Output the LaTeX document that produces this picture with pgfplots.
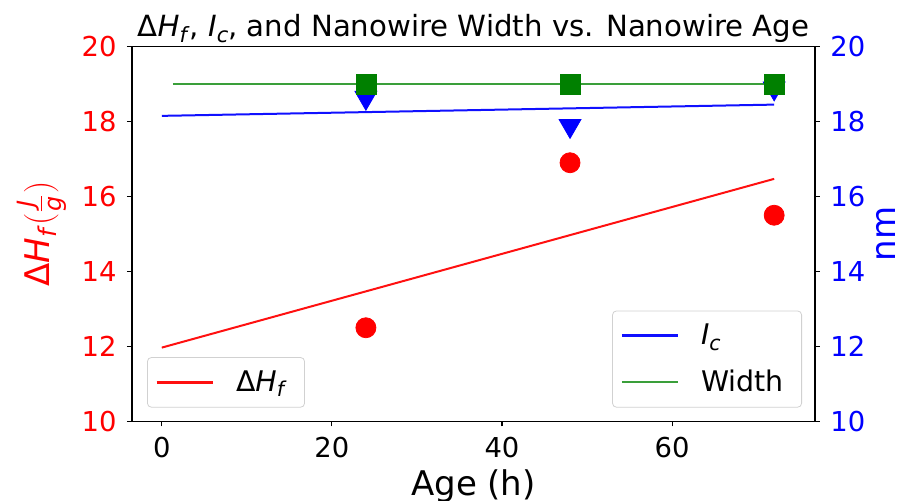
\documentclass[border=0pt]{standalone}
\usepackage{pgfplots}
\pgfplotsset{compat=1.18}
\usepackage{amsmath}
\usepackage{fontspec}
\setmainfont{DejaVu Sans}

\definecolor{hfred}{HTML}{FF1010}
\definecolor{icblue}{HTML}{1010FF}
\definecolor{wline}{HTML}{3A9F3A}
\definecolor{wmark}{HTML}{008000}

\newcommand{\DHf}{Δ\textit{H}\raisebox{-0.35ex}{\scalebox{0.72}{\textit{f}}}}
\newcommand{\Ic}{\textit{I}\raisebox{-0.35ex}{\scalebox{0.72}{\textit{c}}}}

\pgfplotsset{
  twin/.style={
    at={(0,0)}, anchor=south west,
    scale only axis, width=341.5pt, height=187.5pt,
    xmin=-3.5, xmax=76.8, ymin=10, ymax=20,
    ytick={10,12,...,20},
    tick align=outside, major tick length=2.5pt,
    tick style={black, line width=0.6pt},
    axis line style={line width=0.8pt},
    /pgf/number format/assume math mode=true,
    tick label style={font=\fontsize{13.7}{16}\selectfont, inner sep=0pt},
    legend cell align=left,
    legend image code/.code={\draw[##1, line width=1.3pt] (0pt,0pt) -- (28pt,0pt);},
    legend style={
      draw=black!18, rounded corners=2pt, fill=white, fill opacity=0.8,
      text opacity=1, font=\fontsize{14.2}{17}\selectfont,
      inner xsep=4pt, inner ysep=4.5pt, row sep=7pt,
      nodes={inner xsep=5pt},
      /tikz/every odd column/.append style={column sep=6pt},
    },
  },
}

\begin{document}
\begin{tikzpicture}
\useasboundingbox (-66pt,-39.75pt) rectangle (384.5pt,210.75pt);

% left axis: heat of fusion
\begin{axis}[
  twin,
  tick pos=left,
  xtick={0,20,40,60},
  xticklabel style={yshift=-5pt},
  yticklabel style={text=red, xshift=-5pt},
  title={\DHf, \Ic, and Nanowire Width vs. Nanowire Age},
  title style={at={(rel axis cs:0.5,1)}, anchor=base, yshift=-1pt,
               font=\fontsize{14.6}{17}\selectfont},
  xlabel={Age (h)},
  xlabel style={at={(rel axis cs:0.5,0)}, anchor=base, yshift=-36.8pt,
                font=\fontsize{17}{20}\selectfont},
  ylabel={\DHf$(\frac{\text{\itshape J}}{\text{\itshape g}})$},
  ylabel style={at={(rel axis cs:0,0.5)}, anchor=center, yshift=45pt,
                text=red, font=\fontsize{17}{20}\selectfont},
  legend style={at={(0.022,0.037)}, anchor=south west},
]
\addplot[hfred, line width=1pt] coordinates {(0,11.97) (72,16.47)};
\addlegendentry{\DHf}
\addplot[only marks, mark=*, mark size=5pt, color=red, forget plot]
  coordinates {(24,12.5) (48,16.9) (72,15.5)};
\end{axis}

% right axis: critical current and width
\begin{axis}[
  twin,
  axis x line=none,
  axis y line*=right,
  ytick pos=right,
  xtick=\empty,
  yticklabel style={text=blue, xshift=5pt},
  ylabel={nm},
  ylabel style={at={(rel axis cs:1,0.5)}, anchor=center, yshift=-35.5pt,
                text=blue, font=\fontsize{17}{20}\selectfont},
  legend style={at={(0.981,0.037)}, anchor=south east},
]
\addplot[icblue, line width=1pt] coordinates {(0,18.15) (72,18.45)};
\addlegendentry{\Ic}
\addplot[wline, line width=1.2pt] coordinates {(1.3,19) (72,19)};
\addlegendentry{Width}
\addplot[only marks, mark=triangle*, mark size=6.3pt, color=blue, forget plot,
  mark options={rotate=180, yshift=-1.6pt}]
  coordinates {(24,18.55) (48,17.8) (72,18.8)};
\addplot[only marks, mark=square*, mark size=5pt, color=wmark, forget plot]
  coordinates {(24,19) (48,19) (72,19)};
\end{axis}
\end{tikzpicture}
\end{document}
